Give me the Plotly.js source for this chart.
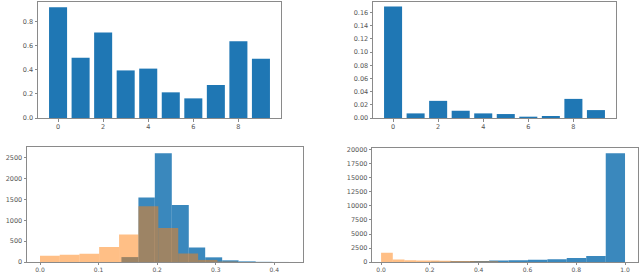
<!DOCTYPE html>
<html>
<head>
<meta charset="utf-8">
<script src="https://cdn.plot.ly/plotly-3.0.1.min.js"></script>
<style>html,body{margin:0;padding:0;background:#fff;}#chart{width:640px;height:272px;}</style>
</head>
<body>
<div id="chart"></div>
<script>
// ---- data ----
const barCategories = [0, 1, 2, 3, 4, 5, 6, 7, 8, 9];
const topLeftValues = [0.92, 0.50, 0.71, 0.395, 0.41, 0.213, 0.163, 0.274, 0.637, 0.492];
const topRightValues = [0.169, 0.007, 0.026, 0.011, 0.007, 0.006, 0.002, 0.003, 0.029, 0.012];

const histLeftBlueEdges = [0.139, 0.168, 0.196, 0.225, 0.254, 0.282, 0.311, 0.339, 0.368, 0.397, 0.425];
const histLeftBlueCounts = [118, 1550, 2611, 1368, 350, 112, 40, 15, 4, 1];
const histLeftOrangeEdges = [0, 0.0337, 0.0674, 0.101, 0.135, 0.168, 0.202, 0.236, 0.270, 0.303, 0.337];
const histLeftOrangeCounts = [150, 172, 196, 361, 660, 1337, 818, 205, 50, 10];

const histRightBlueEdges = [0.205, 0.284, 0.364, 0.443, 0.523, 0.602, 0.682, 0.761, 0.841, 0.921, 1.0];
const histRightBlueCounts = [30, 120, 180, 280, 330, 380, 480, 730, 1060, 19420];
const histRightOrangeEdges = [0, 0.048, 0.096, 0.144, 0.192, 0.240, 0.288, 0.336, 0.384, 0.432, 0.48];
const histRightOrangeCounts = [1640, 460, 300, 270, 250, 230, 200, 180, 150, 120];

// ---- helpers ----
function centers(edges) { const c = []; for (let i = 0; i < edges.length - 1; i++) c.push((edges[i] + edges[i + 1]) / 2); return c; }
function widths(edges) { const w = []; for (let i = 0; i < edges.length - 1; i++) w.push(edges[i + 1] - edges[i]); return w; }

const BLUE = '#1f77b4';
const ORANGE = '#ff7f0e';

const traces = [
  {type: 'bar', x: barCategories, y: topLeftValues, width: 0.8, marker: {color: BLUE, line: {width: 0}}, xaxis: 'x', yaxis: 'y'},
  {type: 'bar', x: barCategories, y: topRightValues, width: 0.8, marker: {color: BLUE, line: {width: 0}}, xaxis: 'x2', yaxis: 'y2'},
  {type: 'bar', x: centers(histLeftBlueEdges), y: histLeftBlueCounts, width: widths(histLeftBlueEdges), marker: {color: BLUE, opacity: 0.88, line: {width: 0}}, xaxis: 'x3', yaxis: 'y3'},
  {type: 'bar', x: centers(histLeftOrangeEdges), y: histLeftOrangeCounts, width: widths(histLeftOrangeEdges), marker: {color: ORANGE, opacity: 0.5, line: {width: 0}}, xaxis: 'x3', yaxis: 'y3'},
  {type: 'bar', x: centers(histRightBlueEdges), y: histRightBlueCounts, width: widths(histRightBlueEdges), marker: {color: BLUE, opacity: 0.88, line: {width: 0}}, xaxis: 'x4', yaxis: 'y4'},
  {type: 'bar', x: centers(histRightOrangeEdges), y: histRightOrangeCounts, width: widths(histRightOrangeEdges), marker: {color: ORANGE, opacity: 0.5, line: {width: 0}}, xaxis: 'x4', yaxis: 'y4'}
];

const W = 640, H = 272;
function dx(a, b) { return [a / W, b / W]; }
function dy(top, bottom) { return [1 - bottom / H, 1 - top / H]; }

const tickFont = {family: 'DejaVu Sans, sans-serif', size: 6.5, color: '#555'};
function ax(extra) {
  return Object.assign({
    showgrid: false, zeroline: false, showline: true, mirror: true,
    linecolor: '#8a8a8a', linewidth: 1, ticks: 'outside', ticklen: 2.5,
    tickcolor: '#8a8a8a', tickwidth: 1, tickfont: tickFont, fixedrange: true
  }, extra);
}

const layout = {
  width: W, height: H,
  margin: {l: 0, r: 0, t: 0, b: 0},
  paper_bgcolor: '#fff', plot_bgcolor: '#fff',
  showlegend: false, barmode: 'overlay',
  xaxis: ax({domain: dx(38, 281), range: [-0.89, 9.89], tickvals: [0, 2, 4, 6, 8], anchor: 'y'}),
  yaxis: ax({domain: dy(2, 118), range: [0, 0.963], tickvals: [0, 0.2, 0.4, 0.6, 0.8], tickformat: '.1f', anchor: 'x'}),
  xaxis2: ax({domain: dx(373, 616), range: [-0.89, 9.89], tickvals: [0, 2, 4, 6, 8], anchor: 'y2'}),
  yaxis2: ax({domain: dy(2, 118), range: [0, 0.176], dtick: 0.02, tick0: 0, tickformat: '.2f', anchor: 'x2'}),
  xaxis3: ax({domain: dx(27, 262), range: [-0.0222, 0.449], dtick: 0.1, tick0: 0, tickformat: '.1f', anchor: 'y3', ticklen: 2, tickfont: Object.assign({}, tickFont, {size: 6})}),
  yaxis3: ax({domain: dy(147.3, 262), range: [0, 2752], dtick: 500, tick0: 0, tickformat: 'd', anchor: 'x3'}),
  xaxis4: ax({domain: dx(372.3, 637.7), range: [-0.036, 1.052], dtick: 0.2, tick0: 0, tickformat: '.1f', anchor: 'y4', ticklen: 2, tickfont: Object.assign({}, tickFont, {size: 6})}),
  yaxis4: ax({domain: dy(148.3, 262), range: [0, 20300], dtick: 2500, tick0: 0, tickformat: 'd', anchor: 'x4'})
};
layout.xaxis3.domain = dx(27, 303);

Plotly.newPlot('chart', traces, layout, {displayModeBar: false, staticPlot: true});
</script>
</body>
</html>
